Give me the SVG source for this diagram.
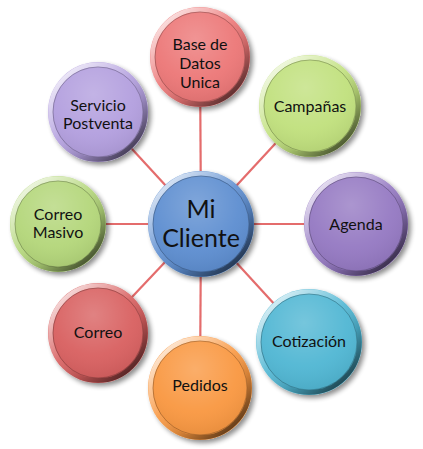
<svg xmlns="http://www.w3.org/2000/svg" width="423" height="449" viewBox="0 0 423 449">
<style>
  .lbl { font-family: Lato, "Open Sans", "Liberation Sans", sans-serif; font-size: 16px; fill: #111; text-anchor: middle; }
  .big { font-size: 25px; }
  .spoke { stroke: #E46C6C; stroke-width: 2.2; fill: none; }
  .rim { fill: none; stroke: url(#rimG); stroke-width: 4.5; }
  .edge { fill: none; stroke: #000; stroke-opacity: 0.25; stroke-width: 1; }
  .gloss { fill: url(#glossG); }
</style>
<defs>
  <filter id="sh" x="-20%" y="-20%" width="150%" height="150%">
    <feGaussianBlur in="SourceAlpha" stdDeviation="2.5"/>
    <feOffset dx="3" dy="3" result="b"/>
    <feComponentTransfer><feFuncA type="linear" slope="0.45"/></feComponentTransfer>
    <feMerge><feMergeNode/><feMergeNode in="SourceGraphic"/></feMerge>
  </filter>
  <linearGradient id="rimG" x1="0.15" y1="0.1" x2="0.85" y2="0.9">
    <stop offset="0" stop-color="#fff" stop-opacity="0.75"/>
    <stop offset="0.45" stop-color="#fff" stop-opacity="0.1"/>
    <stop offset="0.7" stop-color="#000" stop-opacity="0.15"/>
    <stop offset="1" stop-color="#000" stop-opacity="0.6"/>
  </linearGradient>
  <radialGradient id="glossG" cx="0.45" cy="0.3" r="0.75">
    <stop offset="0" stop-color="#fff" stop-opacity="0.22"/>
    <stop offset="0.6" stop-color="#fff" stop-opacity="0.05"/>
    <stop offset="1" stop-color="#000" stop-opacity="0.08"/>
  </radialGradient>
</defs>

<g id="connectors">
  <line class="spoke" x1="201" y1="224" x2="200" y2="57"/>
  <line class="spoke" x1="201" y1="224" x2="310" y2="106"/>
  <line class="spoke" x1="201" y1="224" x2="356" y2="224"/>
  <line class="spoke" x1="201" y1="224" x2="309" y2="342"/>
  <line class="spoke" x1="201" y1="224" x2="200" y2="388"/>
  <line class="spoke" x1="201" y1="224" x2="98" y2="333"/>
  <line class="spoke" x1="201" y1="224" x2="58" y2="224"/>
  <line class="spoke" x1="201" y1="224" x2="98" y2="112"/>
</g>

<g id="base-datos" transform="translate(200,57)">
  <circle r="50" fill="#EC7676" filter="url(#sh)"/>
  <circle r="47.5" class="rim"/>
  <circle r="45" class="edge"/>
  <circle r="45" class="gloss"/>
  <text class="lbl" x="0" y="-7">Base de</text>
  <text class="lbl" x="0" y="12">Datos</text>
  <text class="lbl" x="0" y="31">Unica</text>
</g>

<g id="campanas" transform="translate(310,106)">
  <circle r="51" fill="#C0E07C" filter="url(#sh)"/>
  <circle r="48.5" class="rim"/>
  <circle r="46" class="edge"/>
  <circle r="46" class="gloss"/>
  <text class="lbl" x="0" y="6">Campañas</text>
</g>

<g id="agenda" transform="translate(356,224)">
  <circle r="52" fill="#9478C2" filter="url(#sh)"/>
  <circle r="49.5" class="rim"/>
  <circle r="47" class="edge"/>
  <circle r="47" class="gloss"/>
  <text class="lbl" x="0" y="6">Agenda</text>
</g>

<g id="cotizacion" transform="translate(309,342)">
  <circle r="53" fill="#4FB6D3" filter="url(#sh)"/>
  <circle r="50.5" class="rim"/>
  <circle r="48" class="edge"/>
  <circle r="48" class="gloss"/>
  <text class="lbl" x="0" y="5">Cotización</text>
</g>

<g id="pedidos" transform="translate(200,388)">
  <circle r="52" fill="#F9973F" filter="url(#sh)"/>
  <circle r="49.5" class="rim"/>
  <circle r="47" class="edge"/>
  <circle r="47" class="gloss"/>
  <text class="lbl" x="0" y="3">Pedidos</text>
</g>

<g id="correo" transform="translate(98,333)">
  <circle r="50" fill="#D85E5E" filter="url(#sh)"/>
  <circle r="47.5" class="rim"/>
  <circle r="45" class="edge"/>
  <circle r="45" class="gloss"/>
  <text class="lbl" x="0" y="5">Correo</text>
</g>

<g id="correo-masivo" transform="translate(58,224)">
  <circle r="48" fill="#B3D679" filter="url(#sh)"/>
  <circle r="45.5" class="rim"/>
  <circle r="43" class="edge"/>
  <circle r="43" class="gloss"/>
  <text class="lbl" x="0" y="-4">Correo</text>
  <text class="lbl" x="0" y="14">Masivo</text>
</g>

<g id="servicio-postventa" transform="translate(98,112)">
  <circle r="50" fill="#B29EDE" filter="url(#sh)"/>
  <circle r="47.5" class="rim"/>
  <circle r="45" class="edge"/>
  <circle r="45" class="gloss"/>
  <text class="lbl" x="0" y="-1">Servicio</text>
  <text class="lbl" x="0" y="17">Postventa</text>
</g>

<g id="mi-cliente" transform="translate(201,224)">
  <circle r="53" fill="#5B8DD0" filter="url(#sh)"/>
  <circle r="50.5" class="rim"/>
  <circle r="48" class="edge"/>
  <circle r="48" class="gloss"/>
  <text class="lbl big" x="0" y="-6">Mi</text>
  <text class="lbl big" x="0" y="23">Cliente</text>
</g>
</svg>
